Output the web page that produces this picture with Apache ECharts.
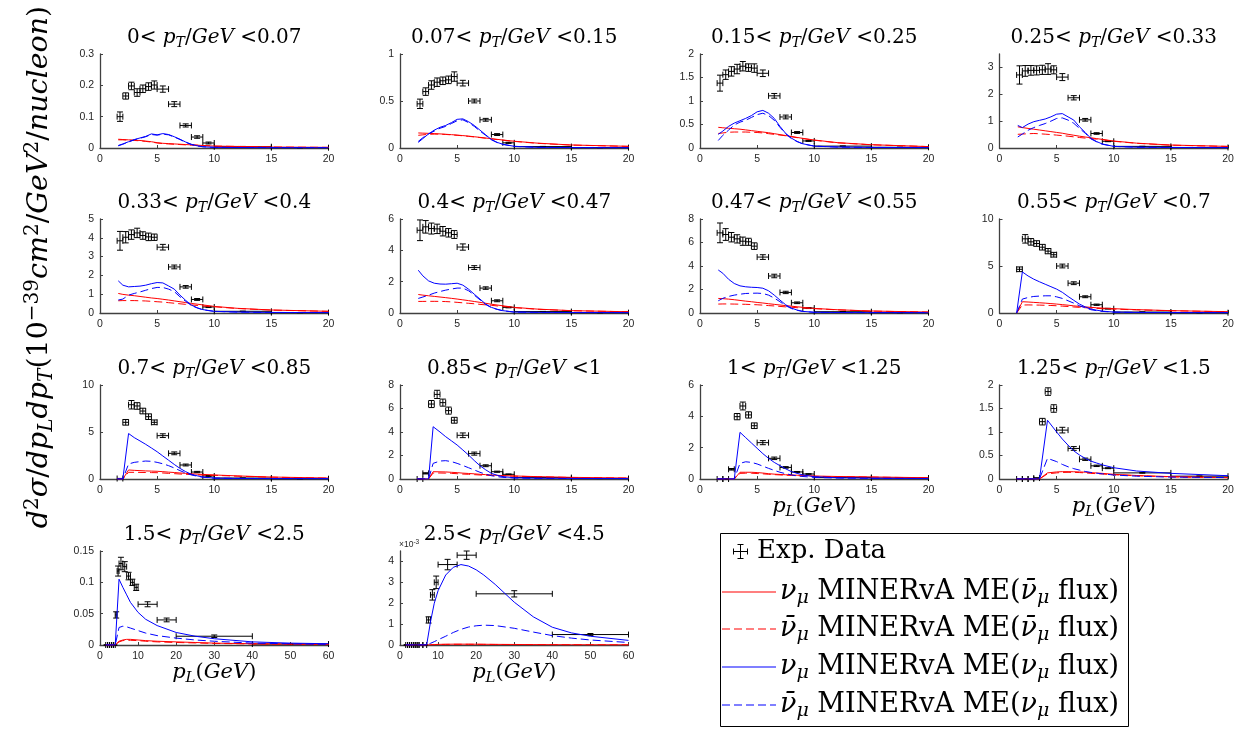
<!DOCTYPE html>
<html><head><meta charset="utf-8">
<script src="https://cdn.jsdelivr.net/npm/echarts@6/dist/echarts.min.js"></script>
<style>html,body{margin:0;padding:0;background:#fff}#c{width:1241px;height:729px}</style>
</head><body><div id="c"></div>
<script>
// ---------------- DATA ----------------
const ptLow  = ['0','0.07','0.15','0.25','0.33','0.4','0.47','0.55','0.7','0.85','1','1.25','1.5','2.5'];
const ptHigh = ['0.07','0.15','0.25','0.33','0.4','0.47','0.55','0.7','0.85','1','1.25','1.5','2.5','4.5'];
const yMax  = [0.3,1,2,3.5,5,6,8,10,10,8,6,2,0.15,4.5];
const yStep = [0.1,0.5,0.5,1,1,2,2,5,5,2,2,0.5,0.05,1];
const xMax  = [20,20,20,20,20,20,20,20,20,20,20,20,60,60];
const xStep = [5,5,5,5,5,5,5,5,5,5,5,5,10,10];

const binCenter = [1.75,2.25,2.75,3.25,3.75,4.25,4.75,5.5,6.5,7.5,8.5,9.5,12.5,17.5,30,50];
const binHalf   = [0.25,0.25,0.25,0.25,0.25,0.25,0.25,0.5,0.5,0.5,0.5,0.5,2.5,2.5,10,10];

const expY = [
 [0.100,0.166,0.198,0.177,0.189,0.196,0.201,0.188,0.140,0.072,0.035,0.016,0.004,0.001],
 [0.47,0.60,0.67,0.70,0.715,0.725,0.76,0.69,0.50,0.30,0.143,0.055,0.015,0.004],
 [1.38,1.56,1.63,1.68,1.74,1.71,1.70,1.59,1.11,0.66,0.33,0.15,0.04,0.015],
 [2.72,2.87,2.89,2.89,2.91,2.94,2.91,2.64,1.87,1.05,0.54,0.25,0.06,0.02],
 [3.84,4.03,4.17,4.26,4.12,4.05,4.03,3.50,2.45,1.39,0.72,0.32,0.09,0.02],
 [5.28,5.50,5.39,5.37,5.22,5.12,5.01,4.21,2.90,1.59,0.78,0.36,0.09,0.02],
 [6.82,6.68,6.45,6.31,6.11,6.06,5.69,4.76,3.15,1.75,0.87,0.42,0.11,0.03],
 [4.65,7.89,7.57,7.39,7.00,6.58,6.20,5.00,3.17,1.73,0.88,0.46,0.10,0.03],
 [0.05,6.03,7.90,7.77,7.23,6.63,6.03,4.61,2.73,1.49,0.74,0.32,0.10,0.03],
 [0.00,0.48,6.38,7.20,6.50,5.82,5.00,3.72,2.16,1.13,0.62,0.40,0.12,0.04],
 [0.00,0.00,0.62,3.98,4.66,4.09,3.40,2.32,1.32,0.74,0.45,0.32,0.10,0.06],
 [0.00,0.00,0.00,0.02,1.22,1.86,1.50,1.04,0.65,0.42,0.28,0.23,0.13,0.06],
 [0,0,0,0,0,0.048,0.118,0.130,0.125,0.110,0.100,0.092,0.065,0.040,0.014,0.0015],
 [0,0,0,0,0,0,0,0,0,1.2,2.4,3.0,3.85,4.3,2.45,0.5]
];
const expErr = [
 [0.015,0.010,0.012,0.012,0.012,0.012,0.013,0.010,0.008,0.005,0.004,0.003,0.001,0.0005],
 [0.05,0.04,0.045,0.045,0.04,0.04,0.05,0.03,0.02,0.015,0.01,0.006,0.002,0.001],
 [0.17,0.10,0.10,0.10,0.10,0.08,0.09,0.07,0.05,0.04,0.02,0.01,0.004,0.002],
 [0.34,0.20,0.18,0.17,0.17,0.20,0.15,0.13,0.08,0.05,0.03,0.015,0.005,0.002],
 [0.50,0.30,0.25,0.25,0.20,0.20,0.17,0.15,0.10,0.07,0.05,0.03,0.01,0.003],
 [0.66,0.40,0.35,0.30,0.30,0.27,0.25,0.20,0.12,0.08,0.06,0.03,0.01,0.003],
 [0.84,0.50,0.40,0.35,0.35,0.30,0.28,0.20,0.15,0.10,0.07,0.04,0.012,0.004],
 [0.25,0.45,0.35,0.30,0.30,0.28,0.25,0.20,0.15,0.10,0.07,0.04,0.012,0.004],
 [0.01,0.30,0.45,0.35,0.30,0.30,0.25,0.20,0.15,0.10,0.07,0.04,0.012,0.004],
 [0.005,0.05,0.30,0.35,0.30,0.30,0.25,0.20,0.13,0.08,0.05,0.03,0.012,0.005],
 [0.005,0.005,0.05,0.20,0.25,0.20,0.18,0.13,0.08,0.05,0.03,0.02,0.01,0.005],
 [0.002,0.002,0.002,0.005,0.07,0.08,0.08,0.06,0.04,0.025,0.015,0.01,0.006,0.004],
 [0.0005,0.0005,0.0005,0.0005,0.0005,0.005,0.008,0.010,0.008,0.006,0.005,0.005,0.004,0.003,0.002,0.0005],
 [0.02,0.02,0.02,0.02,0.02,0.02,0.02,0.02,0.02,0.15,0.25,0.30,0.25,0.20,0.15,0.05]
];

const gA = [1.6,2,2.5,3,3.5,4,4.5,5,5.5,6,6.5,7,7.5,8,8.5,9,10,12,15,20];
const gB = [1.5,2,2.5,3,3.5,4,4.5,5,5.5,6,6.5,7,7.5,8,8.5,9,10,12,15,20];
const gC = [1.5,2,2.5,2.9,3.5,4,4.5,5,5.5,6,6.5,7,7.5,8,8.5,9,10,12,15,20];
const gD = [1.5,2,2.5,3,3.5,4.2,5,5.5,6,6.5,7,7.5,8,8.5,9,10,12,15,20];
const gE = [1.5,2,3,4,5,6,7,8,10,12,15,20,25,30,40,50,60];
const gF = [1.5,3,5,7,8,9,10,12,14,16,18,20,22,25,30,35,40,45,50,60];
const curveX = [gA,gA,gA,gA,gA,gA,gA,gB,gB,gC,gB,gD,gE,gF];

const blueSolid = [
 [0.008,0.013,0.020,0.027,0.032,0.037,0.045,0.042,0.046,0.043,0.036,0.028,0.019,0.012,0.007,0.004,0.002,0.0015,0.001,0.0008],
 [0.06,0.10,0.15,0.19,0.22,0.24,0.27,0.305,0.31,0.28,0.24,0.19,0.14,0.09,0.06,0.04,0.018,0.007,0.004,0.002],
 [0.29,0.36,0.46,0.53,0.58,0.63,0.69,0.77,0.80,0.74,0.63,0.46,0.31,0.21,0.14,0.09,0.04,0.02,0.012,0.008],
 [0.84,0.76,0.89,0.98,1.03,1.08,1.16,1.26,1.28,1.16,1.04,0.79,0.58,0.36,0.24,0.15,0.06,0.03,0.02,0.01],
 [1.71,1.48,1.39,1.41,1.43,1.48,1.56,1.62,1.60,1.44,1.27,0.95,0.67,0.42,0.28,0.18,0.09,0.05,0.03,0.02],
 [2.73,2.37,2.05,1.90,1.85,1.84,1.87,1.90,1.78,1.52,1.20,0.89,0.57,0.36,0.24,0.15,0.06,0.04,0.03,0.02],
 [3.66,3.38,2.87,2.51,2.31,2.23,2.19,2.17,2.11,1.89,1.52,1.10,0.70,0.42,0.25,0.14,0.06,0.04,0.03,0.02],
 [0,4.37,3.94,3.60,3.32,3.06,2.80,2.54,2.20,1.76,1.35,0.95,0.65,0.42,0.30,0.20,0.10,0.06,0.04,0.03],
 [0,0,4.84,4.40,4.05,3.69,3.30,2.90,2.45,2.00,1.55,1.13,0.78,0.50,0.34,0.21,0.10,0.06,0.04,0.03],
 [0,0,0,4.45,4.00,3.60,3.25,2.89,2.47,2.04,1.57,1.13,0.78,0.48,0.32,0.20,0.11,0.07,0.05,0.03],
 [0,0,0,0,2.98,2.64,2.30,1.96,1.62,1.32,1.06,0.85,0.65,0.47,0.36,0.26,0.15,0.08,0.05,0.03],
 [0,0,0,0,0,1.25,1.00,0.85,0.72,0.60,0.51,0.44,0.38,0.34,0.30,0.24,0.17,0.12,0.07],
 [0,0,0,0,0.105,0.092,0.080,0.068,0.052,0.041,0.031,0.020,0.014,0.010,0.005,0.003,0.002],
 [0,0,0,0,1.10,2.00,2.60,3.35,3.72,3.85,3.78,3.60,3.35,2.90,2.05,1.35,0.85,0.58,0.42,0.22]
];
const blueDashed = [
 [0.007,0.012,0.019,0.026,0.031,0.036,0.043,0.041,0.044,0.042,0.035,0.027,0.018,0.011,0.0065,0.004,0.002,0.0015,0.001,0.0008],
 [0.07,0.11,0.15,0.18,0.21,0.23,0.26,0.29,0.30,0.27,0.23,0.18,0.135,0.088,0.058,0.038,0.017,0.007,0.004,0.002],
 [0.16,0.27,0.38,0.49,0.55,0.59,0.65,0.71,0.74,0.69,0.59,0.44,0.30,0.20,0.135,0.087,0.04,0.02,0.012,0.008],
 [0.41,0.52,0.66,0.76,0.84,0.91,1.00,1.10,1.12,1.04,0.92,0.73,0.55,0.34,0.23,0.14,0.06,0.03,0.02,0.01],
 [0.69,0.74,0.95,1.04,1.12,1.21,1.30,1.36,1.36,1.27,1.14,0.86,0.62,0.40,0.27,0.17,0.085,0.05,0.03,0.02],
 [0.93,1.02,1.14,1.27,1.37,1.46,1.53,1.59,1.59,1.42,1.14,0.84,0.54,0.34,0.23,0.14,0.06,0.04,0.03,0.02],
 [1.04,1.25,1.41,1.52,1.60,1.66,1.68,1.69,1.66,1.52,1.27,0.96,0.62,0.38,0.23,0.13,0.06,0.04,0.03,0.02],
 [0,1.48,1.65,1.76,1.80,1.83,1.83,1.72,1.55,1.30,1.05,0.77,0.55,0.35,0.25,0.17,0.09,0.06,0.04,0.03],
 [0,0,1.60,1.77,1.85,1.91,1.88,1.77,1.62,1.42,1.17,0.89,0.64,0.43,0.30,0.19,0.09,0.06,0.04,0.03],
 [0,0,0,1.33,1.53,1.56,1.48,1.33,1.15,0.96,0.77,0.57,0.41,0.28,0.20,0.14,0.08,0.05,0.04,0.03],
 [0,0,0,0,1.00,1.10,1.06,0.96,0.82,0.68,0.55,0.43,0.34,0.26,0.20,0.16,0.10,0.06,0.04,0.03],
 [0,0,0,0,0,0.44,0.37,0.31,0.26,0.22,0.19,0.16,0.14,0.125,0.11,0.085,0.06,0.04,0.03],
 [0,0,0,0,0.028,0.030,0.029,0.027,0.023,0.019,0.015,0.011,0.008,0.006,0.003,0.002,0.001],
 [0,0,0,0,0.08,0.16,0.25,0.42,0.60,0.75,0.86,0.92,0.95,0.93,0.80,0.62,0.45,0.33,0.24,0.12]
];
const redSolid = [
 [0.028,0.027,0.026,0.025,0.024,0.022,0.020,0.017,0.015,0.014,0.013,0.012,0.011,0.010,0.009,0.008,0.006,0.005,0.003,0.002],
 [0.16,0.158,0.156,0.153,0.15,0.146,0.142,0.137,0.132,0.126,0.12,0.113,0.106,0.099,0.092,0.085,0.072,0.052,0.032,0.018],
 [0.44,0.43,0.42,0.41,0.40,0.385,0.37,0.355,0.34,0.325,0.305,0.285,0.265,0.245,0.225,0.205,0.17,0.115,0.07,0.03],
 [0.79,0.76,0.73,0.70,0.67,0.64,0.61,0.58,0.55,0.51,0.475,0.44,0.41,0.38,0.35,0.32,0.26,0.18,0.11,0.06],
 [1.04,0.99,0.95,0.92,0.88,0.84,0.80,0.77,0.73,0.69,0.645,0.60,0.555,0.51,0.47,0.43,0.35,0.25,0.16,0.09],
 [1.18,1.14,1.10,1.06,1.02,0.98,0.935,0.89,0.84,0.79,0.735,0.68,0.62,0.56,0.51,0.46,0.36,0.25,0.15,0.08],
 [1.24,1.22,1.18,1.13,1.07,1.01,0.96,0.90,0.85,0.79,0.735,0.68,0.63,0.58,0.53,0.48,0.39,0.28,0.17,0.08],
 [0,1.20,1.17,1.13,1.09,1.05,1.00,0.95,0.89,0.83,0.76,0.70,0.65,0.60,0.56,0.52,0.46,0.36,0.25,0.14],
 [0,0,0.96,0.92,0.89,0.86,0.84,0.82,0.78,0.73,0.69,0.64,0.60,0.56,0.52,0.49,0.43,0.33,0.21,0.10],
 [0,0,0,0.62,0.61,0.60,0.57,0.54,0.50,0.47,0.44,0.40,0.37,0.34,0.31,0.29,0.26,0.20,0.14,0.08],
 [0,0,0,0,0.43,0.43,0.43,0.41,0.38,0.34,0.31,0.29,0.27,0.26,0.24,0.23,0.19,0.16,0.13,0.08],
 [0,0,0,0,0,0.13,0.15,0.156,0.156,0.154,0.15,0.145,0.135,0.128,0.12,0.10,0.075,0.05,0.03],
 [0,0,0,0,0.006,0.008,0.009,0.009,0.008,0.007,0.006,0.005,0.004,0.003,0.002,0.0015,0.001],
 [0,0,0,0,0.01,0.02,0.03,0.035,0.04,0.04,0.04,0.038,0.035,0.03,0.025,0.02,0.015,0.012,0.01,0.006]
];
const redDashed = [
 [0.026,0.026,0.025,0.024,0.023,0.021,0.019,0.016,0.014,0.013,0.012,0.011,0.010,0.0095,0.009,0.008,0.006,0.005,0.003,0.002],
 [0.135,0.14,0.145,0.148,0.147,0.144,0.14,0.135,0.13,0.124,0.118,0.111,0.104,0.097,0.09,0.083,0.07,0.05,0.031,0.017],
 [0.31,0.32,0.335,0.34,0.34,0.34,0.335,0.33,0.32,0.305,0.29,0.275,0.26,0.24,0.22,0.20,0.165,0.11,0.068,0.03],
 [0.51,0.52,0.53,0.54,0.53,0.515,0.50,0.48,0.46,0.44,0.415,0.39,0.37,0.35,0.33,0.31,0.25,0.175,0.105,0.058],
 [0.65,0.66,0.66,0.66,0.65,0.64,0.62,0.60,0.58,0.55,0.52,0.49,0.46,0.43,0.40,0.375,0.33,0.24,0.155,0.088],
 [0.74,0.74,0.745,0.745,0.74,0.73,0.71,0.68,0.65,0.62,0.59,0.55,0.52,0.49,0.45,0.42,0.34,0.24,0.145,0.078],
 [0.76,0.77,0.77,0.76,0.75,0.74,0.72,0.70,0.67,0.63,0.60,0.56,0.52,0.49,0.45,0.42,0.37,0.27,0.16,0.078],
 [0,0.85,0.86,0.85,0.84,0.82,0.80,0.77,0.73,0.69,0.64,0.60,0.56,0.52,0.49,0.46,0.42,0.33,0.24,0.13],
 [0,0,0.71,0.71,0.70,0.69,0.68,0.67,0.64,0.60,0.57,0.53,0.50,0.47,0.44,0.42,0.39,0.30,0.19,0.09],
 [0,0,0,0.51,0.51,0.50,0.48,0.45,0.42,0.40,0.37,0.34,0.32,0.30,0.28,0.27,0.24,0.19,0.13,0.075],
 [0,0,0,0,0.36,0.37,0.37,0.35,0.33,0.30,0.28,0.26,0.24,0.23,0.21,0.20,0.17,0.15,0.12,0.075],
 [0,0,0,0,0,0.11,0.13,0.14,0.142,0.14,0.137,0.13,0.12,0.113,0.106,0.09,0.07,0.045,0.028],
 [0,0,0,0,0.005,0.007,0.0075,0.0075,0.007,0.006,0.005,0.004,0.0033,0.0025,0.0017,0.0012,0.0008],
 [0,0,0,0,0.008,0.016,0.024,0.03,0.033,0.034,0.034,0.032,0.03,0.026,0.021,0.017,0.013,0.01,0.008,0.005]
];
const legendNu   = ['ν','ν\u0304','ν','ν\u0304'];
const legendFlux = ['ν\u0304','ν\u0304','ν','ν'];

// ---------------- LAYOUT / STYLE ----------------
const SERIF = 'DejaVu Serif';
const SANS = 'Liberation Sans';
const colLeft = [100, 400, 700, 999.5];
const rowTop = [54, 219, 385, 551];
const plotW = 228.5, plotH = 94;
const AX = '#404040';

function renderErr(params, api) {
  const x = api.value(0), y = api.value(1), hx = api.value(2), ey = api.value(3);
  const c = api.coord([x, y]);
  const l = api.coord([x - hx, y]);
  const r = api.coord([x + hx, y]);
  const t = api.coord([x, y + ey]);
  const b = api.coord([x, y - ey]);
  const cap = 3;
  const st = {stroke: '#000', lineWidth: 1, fill: null};
  const ln = (x1, y1, x2, y2) => ({type: 'line', shape: {x1, y1, x2, y2}, style: st});
  return {type: 'group', children: [
    ln(l[0], c[1], r[0], c[1]),
    ln(l[0], c[1] - cap, l[0], c[1] + cap),
    ln(r[0], c[1] - cap, r[0], c[1] + cap),
    ln(c[0], t[1], c[0], b[1]),
    ln(c[0] - cap, t[1], c[0] + cap, t[1]),
    ln(c[0] - cap, b[1], c[0] + cap, b[1])
  ]};
}

function rt(size, italic, pad, lh) {
  const o = {fontFamily: SERIF, fontSize: size, fontStyle: italic ? 'italic' : 'normal', fill: '#000', lineHeight: lh};
  if (pad) o.padding = pad;
  return o;
}
function textEl(x, y, text, rich, align, extra) {
  return Object.assign({
    type: 'text', x: x, y: y, silent: true, z: 100,
    style: {text: text, rich: rich, fill: '#000', fontFamily: SERIF, fontSize: 20,
      align: align, verticalAlign: 'middle', textAlign: align, textVerticalAlign: 'middle'}
  }, extra || {});
}

const grids = [], xAxes = [], yAxes = [], series = [], graphics = [];
const titleRich = {n: rt(20, false, null, 30), i: rt(20, true, null, 30), s: rt(14, true, [10, 0, 0, 0], 30)};

for (let i = 0; i < 14; i++) {
  const r = Math.floor(i / 4), c = i % 4;
  grids.push({left: colLeft[c], top: rowTop[r], width: plotW, height: plotH});
  const divisible = Math.abs(Math.round(yMax[i] / yStep[i]) * yStep[i] - yMax[i]) < 1e-9;
  xAxes.push({type: 'value', gridIndex: i, min: 0, max: xMax[i], interval: xStep[i],
    axisLine: {show: true, onZero: false, lineStyle: {color: AX, width: 1.3}},
    axisTick: {show: true, inside: true, length: 3, lineStyle: {color: AX}},
    axisLabel: {fontFamily: SANS, fontSize: 10.5, color: '#262626', margin: 6},
    splitLine: {show: false}});
  yAxes.push({type: 'value', gridIndex: i, min: 0, max: yMax[i], interval: yStep[i],
    axisLine: {show: true, onZero: false, lineStyle: {color: AX, width: 1.3}},
    axisTick: {show: true, inside: true, length: 3, lineStyle: {color: AX}},
    axisLabel: {fontFamily: SANS, fontSize: 10.5, color: '#262626', margin: 6, showMaxLabel: divisible ? null : false},
    splitLine: {show: false}});

  series.push({type: 'custom', xAxisIndex: i, yAxisIndex: i, renderItem: renderErr, silent: true,
    encode: {x: 0, y: 1}, z: 2,
    data: expY[i].map((v, j) => [binCenter[j], v, binHalf[j], expErr[i][j]])});

  const curves = [[redSolid, '#ff0000', 'solid'], [redDashed, '#ff0000', [8, 4]],
                  [blueSolid, '#0000ff', 'solid'], [blueDashed, '#0000ff', [8, 4]]];
  curves.forEach(cv => {
    series.push({type: 'line', xAxisIndex: i, yAxisIndex: i, showSymbol: false, silent: true, z: 3,
      lineStyle: {color: cv[1], width: 1, type: cv[2]},
      data: curveX[i].map((x, j) => [x, cv[0][i][j]])});
  });

  const cx = colLeft[c] + plotW / 2;
  graphics.push(textEl(cx, rowTop[r] - 16, '{n|' + ptLow[i] + '< }{i|p}{s|T}{n|/}{i|GeV}{n| <' + ptHigh[i] + '}', titleRich, 'center'));
  if (i >= 10) {
    graphics.push(textEl(cx, rowTop[r] + plotH + 28, '{i|p}{s|L}{n|(}{i|GeV}{n|)}',
      {n: rt(21, false, null, 30), i: rt(21, true, null, 30), s: rt(15, true, [10, 0, 0, 0], 30)}, 'center'));
  }
}

// x10^-3 multiplier for last panel
graphics.push(textEl(colLeft[1] - 1, rowTop[3] - 6, '{a|×10}{b|-3}',
  {a: {fontFamily: SANS, fontSize: 8.5, fill: '#262626', lineHeight: 14},
   b: {fontFamily: SANS, fontSize: 6.5, fill: '#262626', lineHeight: 14, padding: [0, 0, 6, 0]}}, 'left'));

// y axis big label
graphics.push(textEl(0, 0,
  '{i|d}{p|2}{i|σ}{n|/}{i|dp}{b|L}{i|dp}{b|T}{n|(10}{p|−39}{i|cm}{p|2}{n|/}{i|GeV}{p|2}{n|/}{i|nucleon}{n|)}',
  {n: rt(28.5, false, null, 42), i: rt(28.5, true, null, 42), p: rt(20, false, [0, 0, 14, 0], 42), b: rt(20, true, [13, 0, 0, 0], 42)},
  'center', {x: 40, y: 267, rotation: Math.PI / 2}));

// legend
const LX = 720, LY = 533;
graphics.push({type: 'rect', silent: true, z: 90, shape: {x: LX + 0.5, y: LY + 0.5, width: 408, height: 193},
  style: {fill: '#fff', stroke: '#000', lineWidth: 1}});
const iconX = 740.5, iconY = 551.5;
[[iconX - 7, iconY, iconX + 7, iconY], [iconX - 7, iconY - 3, iconX - 7, iconY + 3], [iconX + 7, iconY - 3, iconX + 7, iconY + 3],
 [iconX, iconY - 7, iconX, iconY + 7], [iconX - 3, iconY - 7, iconX + 3, iconY - 7], [iconX - 3, iconY + 7, iconX + 3, iconY + 7]]
  .forEach(s => graphics.push({type: 'line', silent: true, z: 95, shape: {x1: s[0], y1: s[1], x2: s[2], y2: s[3]},
    style: {stroke: '#000', lineWidth: 1}}));
graphics.push(textEl(757, 551, '{n|Exp. Data}', {n: rt(26, false, null, 34)}, 'left'));
const legY = [592, 629, 667, 705];
const legColor = ['#ff0000', '#ff0000', '#0000ff', '#0000ff'];
const legDashed = [false, true, false, true];
const legRich = {n: rt(27, false, null, 36), i: rt(27, true, null, 36), s: rt(19, true, [13, 0, 0, 0], 36)};
for (let k = 0; k < 4; k++) {
  const ls = {stroke: legColor[k], lineWidth: 1.2, fill: null};
  if (legDashed[k]) ls.lineDash = [8, 4];
  graphics.push({type: 'line', silent: true, z: 95, shape: {x1: 722, y1: legY[k], x2: 776, y2: legY[k]}, style: ls});
  graphics.push(textEl(780, legY[k],
    '{i|' + legendNu[k] + '}{s|μ}{n| MINERvA ME(}{i|' + legendFlux[k] + '}{s|μ}{n| flux)}', legRich, 'left'));
}

const chart = echarts.init(document.getElementById('c'), null, {renderer: 'canvas'});
chart.setOption({
  animation: false,
  backgroundColor: '#fff',
  grid: grids, xAxis: xAxes, yAxis: yAxes, series: series,
  graphic: {elements: graphics}
});
</script>
</body></html>
